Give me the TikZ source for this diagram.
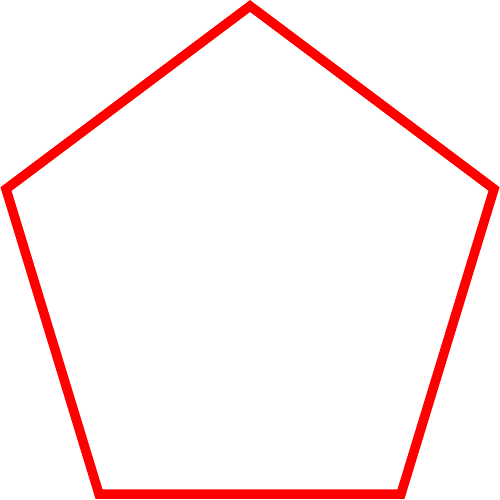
\documentclass[tikz,border=0pt]{standalone}
\begin{document}
\begin{tikzpicture}[x=1pt,y=-1pt,pent/.style={draw=red,line width=9.5pt,line join=miter}]
\useasboundingbox (0,0) rectangle (500,500);
\coordinate (t) at (250,6);
\coordinate (r) at (494,189);
\coordinate (br) at (401,494);
\coordinate (bl) at (99,494);
\coordinate (l) at (6,189);
\draw[pent] (t) -- (r) -- (br) -- (bl) -- (l) -- cycle;
\end{tikzpicture}
\end{document}
